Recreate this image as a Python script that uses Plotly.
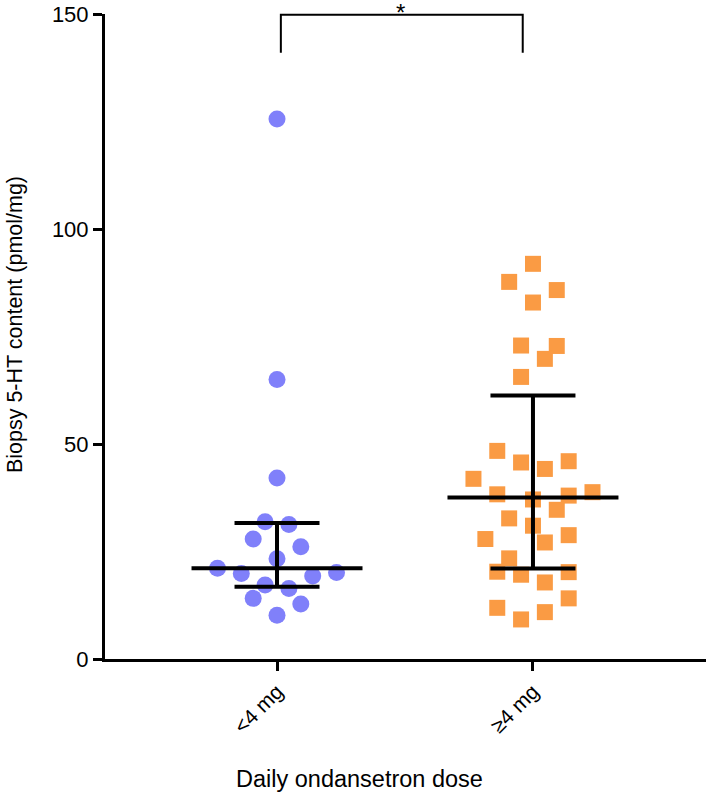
import numpy as np
import plotly.graph_objects as go

# ---- data ----
categories = ["<4 mg", "≥4 mg"]

low_dose = [125.6, 65.0, 42.1, 31.9, 31.3, 27.9, 26.1, 23.3, 21.1, 19.9,
            19.3, 20.1, 17.2, 16.4, 14.1, 12.8, 10.2]
low_jitter = [0, 0, 0, -1, 1, -2, 2, 0, -5, -3, 3, 5, -1, 1, -2, 2, 0]

high_dose = [91.9, 87.7, 85.8, 82.9, 72.9, 72.8, 69.8, 65.6, 48.4, 45.7,
             44.2, 46.0, 41.9, 38.3, 37.1, 38.0, 38.8, 34.7, 32.7, 31.0,
             27.9, 27.1, 28.8, 23.4, 20.3, 19.6, 20.2, 17.8, 14.1, 11.9,
             9.2, 10.9]
high_jitter = [0, -2, 2, 0, -1, 2, 1, -1, -3, -1, 1, 3, -5, -3, 0, 3, 5, 2,
               -2, 0, -4, 1, 3, -2, -3, -1, 3, 1, 3, -3, -1, 1]

y_ticks = [0, 50, 100, 150]
y_title = "Biopsy 5-HT content (pmol/mg)"
x_title = "Daily ondansetron dose"
significance = "*"
bracket_bottom = 141

# ---- styles ----
FONT = "Liberation Sans, Arial, Helvetica, sans-serif"
JIT = 0.0465
colors = ["rgb(128,128,250)", "rgb(250,155,68)"]
symbols = ["circle", "square"]
sizes = [17, 16]

fig = go.Figure()
groups = [low_dose, high_dose]
jitters = [low_jitter, high_jitter]

shapes = []
for i, (vals, jit) in enumerate(zip(groups, jitters)):
    xs = [i + j * JIT for j in jit]
    fig.add_trace(go.Scatter(
        x=xs, y=vals, mode="markers",
        marker=dict(symbol=symbols[i], size=sizes[i], color=colors[i],
                    line=dict(width=0)),
        showlegend=False, hoverinfo="y"))
    arr = np.array(vals)
    med = float(np.median(arr))
    q1, q3 = np.percentile(arr, [25, 75], method="weibull")
    shapes.append(dict(type="line", xref="x", yref="y", x0=i - 0.334, x1=i + 0.334,
                       y0=med, y1=med, line=dict(color="black", width=4), layer="above"))
    shapes.append(dict(type="line", xref="x", yref="y", x0=i, x1=i,
                       y0=q1, y1=q3, line=dict(color="black", width=4), layer="above"))
    for q in (q1, q3):
        shapes.append(dict(type="line", xref="x", yref="y", x0=i - 0.166, x1=i + 0.166,
                           y0=q, y1=q, line=dict(color="black", width=4), layer="above"))

# significance bracket
ymax = y_ticks[-1]
shapes.append(dict(type="path", xref="x", yref="paper",
                   path=f"M 0.015,{bracket_bottom / ymax} L 0.015,0.999 L 0.96,0.999 L 0.96,{bracket_bottom / ymax}",
                   line=dict(color="black", width=2)))

fig.update_layout(
    width=709, height=795,
    margin=dict(l=105, r=3, t=14, b=136),
    plot_bgcolor="white", paper_bgcolor="white",
    font=dict(family=FONT, size=20, color="black"),
    shapes=shapes,
    xaxis=dict(range=[-0.672, 1.676], tickvals=[0, 1], ticktext=categories,
               tickangle=-45, showgrid=False, zeroline=False,
               showline=True, linecolor="black", linewidth=3,
               ticks="outside", ticklen=9, tickwidth=3, tickcolor="black",
               tickfont=dict(size=21)),
    yaxis=dict(range=[0, ymax], tickvals=y_ticks, showgrid=False, zeroline=False,
               showline=True, linecolor="black", linewidth=3,
               ticks="outside", ticklen=9, tickwidth=3, tickcolor="black",
               tickfont=dict(size=22), ticklabeloverflow="allow"),
    annotations=[
        dict(text=significance, xref="x", yref="paper", x=0.484, y=1.0,
             xanchor="center", yanchor="middle", yshift=2, showarrow=False,
             font=dict(size=24)),
        dict(text=x_title, xref="paper", yref="paper", x=0.424, y=-0.186,
             xanchor="center", yanchor="middle", showarrow=False,
             font=dict(size=23.5)),
        dict(text=y_title, xref="paper", yref="paper", x=-0.150, y=0.519,
             xanchor="center", yanchor="middle", textangle=-90, showarrow=False,
             font=dict(size=21.5)),
    ],
)

fig.write_html("out.html", config={"displayModeBar": False},
               post_script="document.body.style.margin='0px';")
